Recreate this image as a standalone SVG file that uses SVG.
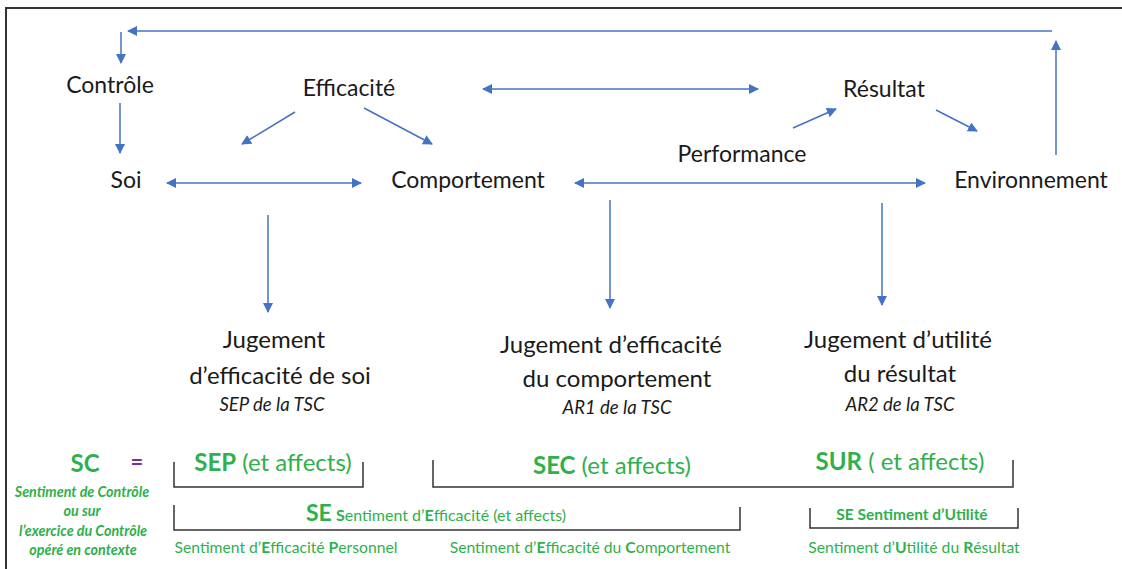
<svg xmlns="http://www.w3.org/2000/svg" width="1122" height="569" viewBox="0 0 1122 569">
<defs>
<marker id="ah" viewBox="0 0 10 10" refX="9" refY="5" markerWidth="10" markerHeight="10" markerUnits="userSpaceOnUse" orient="auto-start-reverse">
<path d="M0,0 L10,5 L0,10 z" fill="#4472C4"/>
</marker>
<style>
.t{font-family:Lato,"Liberation Sans",sans-serif;fill:#1a1a1a;font-size:23px;text-anchor:middle}
.j{font-family:Lato,"Liberation Sans",sans-serif;fill:#1a1a1a;font-size:24px;text-anchor:middle}
.i{font-family:Lato,"Liberation Sans",sans-serif;fill:#1a1a1a;font-size:18.5px;font-style:italic;text-anchor:middle}
.g{font-family:Lato,"Liberation Sans",sans-serif;fill:#2FB04B}
.c line,.c path{stroke:#4472C4;stroke-width:1.5;fill:none}
.b{stroke:#333;stroke-width:1.5;fill:none}
</style>
</defs>
<rect width="1122" height="569" fill="#fff"/>
<path d="M6,569 V8 H1122" stroke="#333" stroke-width="2" fill="none"/>

<g id="connectors" class="c">
<path d="M1052,31 H128" marker-end="url(#ah)"/>
<line x1="1056" y1="155" x2="1056" y2="41" marker-end="url(#ah)"/>
<line x1="121" y1="32" x2="121" y2="63" marker-end="url(#ah)"/>
<line x1="120" y1="103" x2="120" y2="153" marker-end="url(#ah)"/>
<line x1="295" y1="112" x2="242" y2="144" marker-end="url(#ah)"/>
<line x1="364" y1="108" x2="432" y2="144" marker-end="url(#ah)"/>
<line x1="483" y1="89" x2="758" y2="89" marker-start="url(#ah)" marker-end="url(#ah)"/>
<line x1="793" y1="128" x2="836" y2="109" marker-end="url(#ah)"/>
<line x1="936" y1="110" x2="977" y2="131" marker-end="url(#ah)"/>
<line x1="167" y1="183" x2="361" y2="183" marker-start="url(#ah)" marker-end="url(#ah)"/>
<line x1="575" y1="183" x2="925" y2="183" marker-start="url(#ah)" marker-end="url(#ah)"/>
<line x1="268" y1="215" x2="268" y2="312" marker-end="url(#ah)"/>
<line x1="610" y1="200" x2="610" y2="308" marker-end="url(#ah)"/>
<line x1="882" y1="203" x2="882" y2="305" marker-end="url(#ah)"/>
</g>

<g id="controle"><text class="t" x="110" y="93">Contrôle</text></g>
<g id="efficacite"><text class="t" x="349" y="96">Efficacité</text></g>
<g id="resultat"><text class="t" x="884" y="97">Résultat</text></g>
<g id="performance"><text class="t" x="742" y="162">Performance</text></g>
<g id="soi"><text class="t" x="126" y="188">Soi</text></g>
<g id="comportement"><text class="t" x="468" y="188">Comportement</text></g>
<g id="environnement"><text class="t" x="1031" y="188">Environnement</text></g>

<g id="jug-soi">
<text class="j" x="274" y="348">Jugement</text>
<text class="j" x="280" y="384">d’efficacité de soi</text>
<text class="i" x="272" y="411">SEP de la TSC</text>
</g>
<g id="jug-comp">
<text class="j" x="611" y="353">Jugement d’efficacité</text>
<text class="j" x="617" y="387">du comportement</text>
<text class="i" x="617" y="414">AR1 de la TSC</text>
</g>
<g id="jug-res">
<text class="j" x="898" y="348">Jugement d’utilité</text>
<text class="j" x="900" y="382">du résultat</text>
<text class="i" x="900" y="411">AR2 de la TSC</text>
</g>

<g id="sc">
<text class="g" x="85" y="472" font-size="24" font-weight="bold" text-anchor="middle">SC</text>
<text x="137" y="470" font-family="Lato,'Liberation Sans',sans-serif" font-size="22" font-weight="bold" fill="#7030A0" text-anchor="middle">=</text>
<g class="g" font-size="14.3" font-weight="bold" font-style="italic" text-anchor="middle">
<text x="82" y="497">Sentiment de Contrôle</text>
<text x="82" y="516">ou sur</text>
<text x="83" y="536">l’exercice du Contrôle</text>
<text x="83" y="555">opéré en contexte</text>
</g>
</g>

<g id="sep">
<text class="g" x="273" y="471" font-size="24" text-anchor="middle"><tspan font-weight="bold">SEP</tspan> (et affects)</text>
<path class="b" d="M174,462 V487 H363 V462"/>
</g>
<g id="sec">
<text class="g" x="612" y="474" font-size="24" text-anchor="middle"><tspan font-weight="bold">SEC</tspan> (et affects)</text>
<path class="b" d="M433,460 V487 H1013 V460"/>
</g>
<g id="sur">
<text class="g" x="900" y="470" font-size="24" text-anchor="middle"><tspan font-weight="bold">SUR</tspan> ( et affects)</text>
</g>
<g id="se">
<text class="g" x="306" y="521" font-size="16"><tspan font-size="23" font-weight="bold">SE</tspan> <tspan font-weight="bold">S</tspan>entiment d’<tspan font-weight="bold">E</tspan>fficacité (et affects)</text>
<path class="b" d="M174,505 V530 H740 V507"/>
</g>
<g id="se-utilite">
<text class="g" x="912" y="520" font-size="15.5" font-weight="bold" text-anchor="middle">SE Sentiment d’Utilité</text>
<path class="b" d="M810,508 V528 H1018 V508"/>
</g>
<g id="labels-bottom" class="g" font-size="15.7">
<text x="286" y="553" text-anchor="middle">Sentiment d’<tspan font-weight="bold">E</tspan>fficacité <tspan font-weight="bold">P</tspan>ersonnel</text>
<text x="590" y="553" text-anchor="middle">Sentiment d’<tspan font-weight="bold">E</tspan>fficacité du <tspan font-weight="bold">C</tspan>omportement</text>
<text x="914" y="553" text-anchor="middle">Sentiment d’<tspan font-weight="bold">U</tspan>tilité du <tspan font-weight="bold">R</tspan>ésultat</text>
</g>
</svg>
